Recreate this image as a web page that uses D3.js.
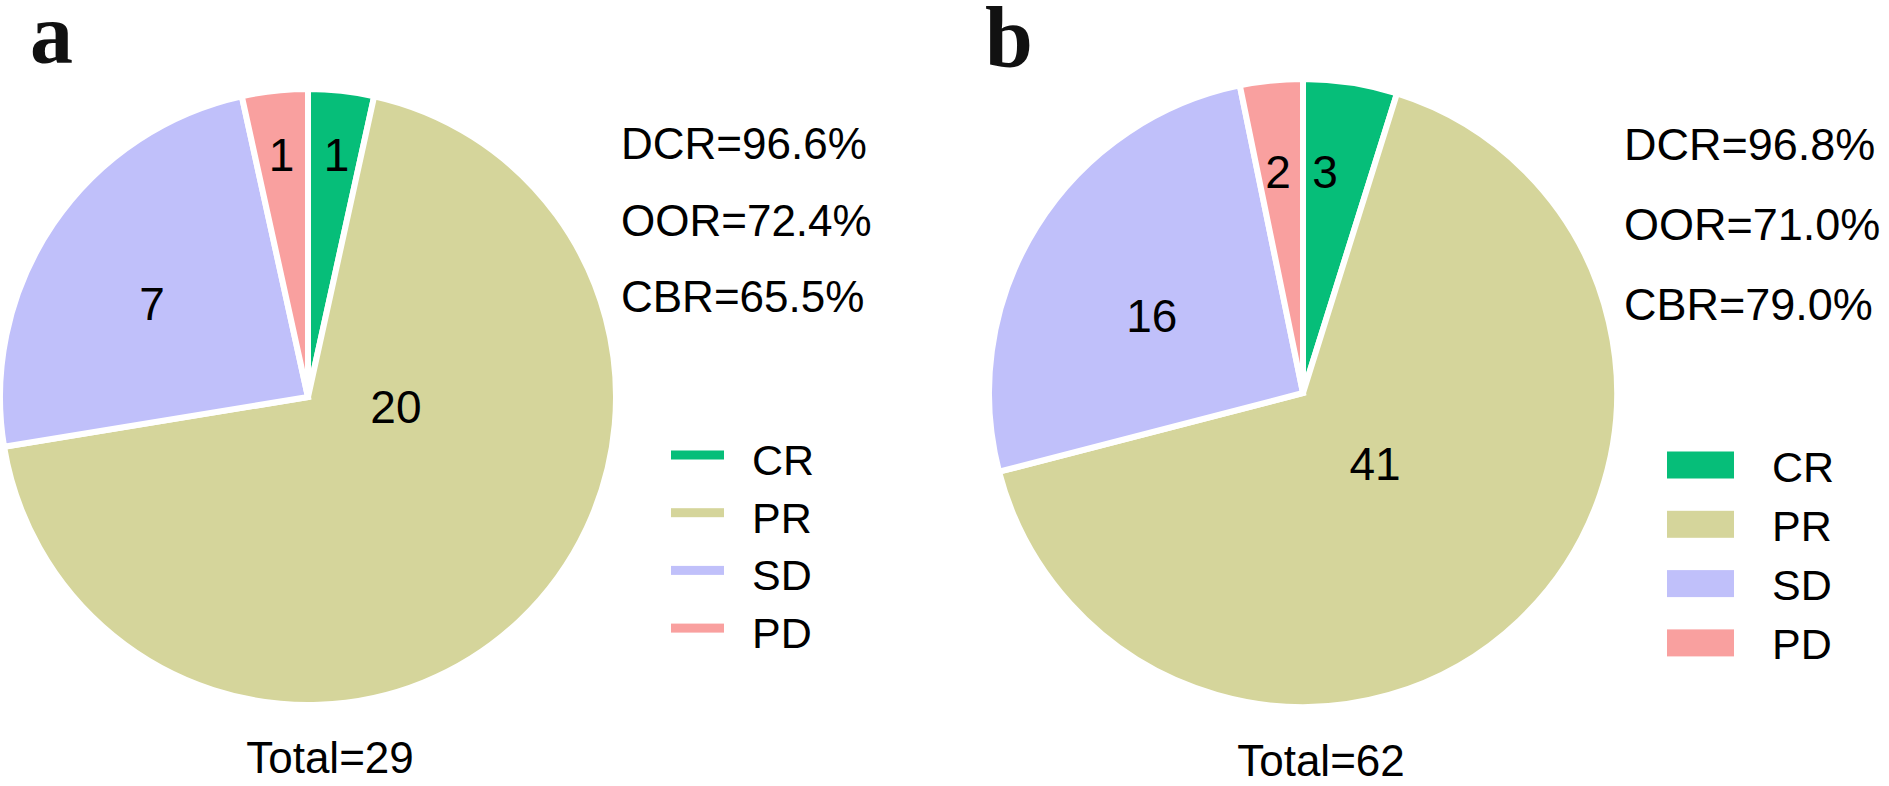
<!DOCTYPE html>
<html>
<head>
<meta charset="utf-8">
<script src="https://cdn.jsdelivr.net/npm/d3@7"></script>
<style>
  body { margin: 0; background: #fff; }
  svg { display: block; font-family: "Liberation Sans", Arial, sans-serif; }
</style>
</head>
<body>
<div id="chart"></div>
<script>
// Data
const categories = ["CR", "PR", "SD", "PD"];
const sliceColors = ["#06BE79", "#D5D59B", "#C0C0FA", "#F9A09F"];
const countsA = [1, 20, 7, 1];
const countsB = [3, 41, 16, 2];
const statNames = ["DCR", "OOR", "CBR"];
const statsA = [96.6, 72.4, 65.5];
const statsB = [96.8, 71.0, 79.0];

const width = 1889, height = 786;

const svg = d3.select("#chart").append("svg")
    .attr("width", width)
    .attr("height", height);

const color = d3.scaleOrdinal().domain(categories).range(sliceColors);

// layout for each panel
const panels = [
    {
        tag: "a", counts: countsA, stats: statsA,
        tagX: 30, tagY: 63,
        cx: 308, cy: 397, r: 305,
        labelAngle: [6.7, 96.4, 301, 353.8],
        labelR: [0.80, 0.29, 0.597, 0.80],
        statX: 621, statY: 159, statStep: 76.5, statSize: 44,
        totalX: 330, totalY: 773,
        legend: { style: "line", x: 671, y: 455, step: 57.7, w: 53, h: 9, textX: 752, textDy: 20 }
    },
    {
        tag: "b", counts: countsB, stats: statsB,
        tagX: 985, tagY: 66,
        cx: 1303, cy: 393, r: 311,
        labelAngle: [5.7, 134.6, 297, 353.6],
        labelR: [0.717, 0.325, 0.546, 0.718],
        statX: 1624, statY: 160, statStep: 80, statSize: 45,
        totalX: 1321, totalY: 776,
        legend: { style: "rect", x: 1667, y: 465, step: 59.3, w: 67, h: 27, textX: 1772, textDy: 16.5 }
    }
];

const pie = d3.pie().sort(null).value(d => d.value);

panels.forEach(p => {
    const data = categories.map((c, i) => ({ cat: c, value: p.counts[i] }));
    const arcs = pie(data);
    const total = d3.sum(p.counts);

    // panel tag
    svg.append("text")
        .attr("x", p.tagX)
        .attr("y", p.tagY)
        .style("font-family", "'Liberation Serif', 'Times New Roman', serif")
        .style("font-weight", "bold")
        .style("font-size", "86px")
        .style("fill", "#111")
        .text(p.tag);

    const g = svg.append("g")
        .attr("transform", `translate(${p.cx},${p.cy})`);

    const arc = d3.arc().innerRadius(0).outerRadius(p.r + 3);

    g.selectAll("path.slice")
        .data(arcs)
        .enter()
        .append("path")
        .attr("class", "slice")
        .attr("d", arc)
        .attr("fill", d => color(d.data.cat))
        .attr("stroke", "#fff")
        .attr("stroke-width", 6)
        .attr("stroke-linejoin", "miter");

    // value labels
    g.selectAll("text.val")
        .data(arcs)
        .enter()
        .append("text")
        .attr("class", "val")
        .attr("x", (d, i) => Math.sin(p.labelAngle[i] * Math.PI / 180) * p.labelR[i] * p.r)
        .attr("y", (d, i) => -Math.cos(p.labelAngle[i] * Math.PI / 180) * p.labelR[i] * p.r + 16.5)
        .attr("text-anchor", "middle")
        .style("font-size", "46px")
        .style("fill", "#000")
        .text(d => d.data.value);

    // rates
    svg.selectAll(null)
        .data(p.stats)
        .enter()
        .append("text")
        .attr("x", p.statX)
        .attr("y", (d, i) => p.statY + i * p.statStep)
        .style("font-size", p.statSize + "px")
        .style("fill", "#000")
        .text((d, i) => `${statNames[i]}=${d.toFixed(1)}%`);

    // total
    svg.append("text")
        .attr("x", p.totalX)
        .attr("y", p.totalY)
        .attr("text-anchor", "middle")
        .style("font-size", "44px")
        .style("fill", "#000")
        .text(`Total=${total}`);

    // legend
    const L = p.legend;
    const legend = svg.append("g").attr("class", "legend");

    legend.selectAll("rect")
        .data(categories)
        .enter()
        .append("rect")
        .attr("x", L.x)
        .attr("y", (d, i) => L.y + i * L.step - L.h / 2)
        .attr("width", L.w)
        .attr("height", L.h)
        .attr("fill", d => color(d));

    legend.selectAll("text")
        .data(categories)
        .enter()
        .append("text")
        .attr("x", L.textX)
        .attr("y", (d, i) => L.y + i * L.step + L.textDy)
        .style("font-size", "43px")
        .style("fill", "#000")
        .text(d => d);
});
</script>
</body>
</html>
